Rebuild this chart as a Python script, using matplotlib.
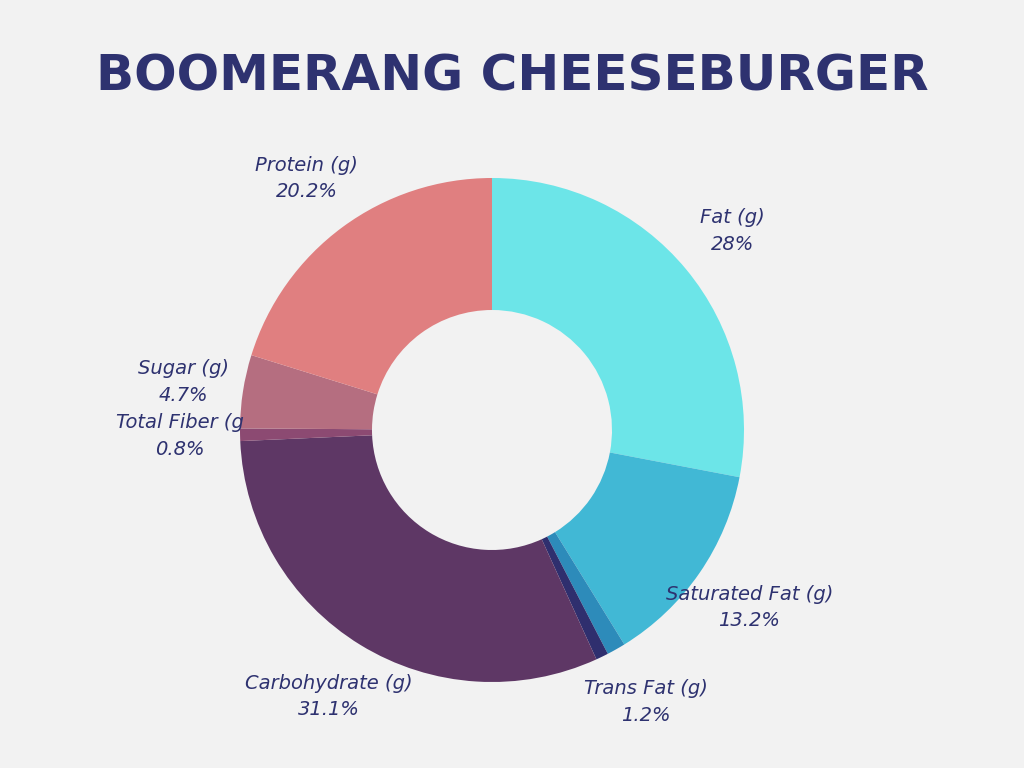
import matplotlib.pyplot as plt

labels = ['Fat (g)', 'Saturated Fat (g)', 'Trans Fat (g)', '', 'Carbohydrate (g)',
          'Total Fiber (g', 'Sugar (g)', 'Protein (g)']
values = [28, 13.2, 1.2, 0.8, 31.1, 0.8, 4.7, 20.2]
shown = ['28%', '13.2%', '1.2%', '', '31.1%', '0.8%', '4.7%', '20.2%']
colors = ['#6ce5e8', '#41b8d5', '#2d8bba', '#2f2f6e', '#5e3765',
          '#8c4a72', '#b56e80', '#e07f80']

text_col = '#2e3270'
fig = plt.figure(figsize=(10.24, 7.68), dpi=100, facecolor='#f2f2f2')
ax = fig.add_axes([0, 0, 1, 1])
ax.set_facecolor('#f2f2f2')

wedges, texts = ax.pie(values, colors=colors, startangle=90, counterclock=False,
                       center=(492, 338), radius=252, labeldistance=1.24,
                       labels=[f'{l}\n{s}' if l else '' for l, s in zip(labels, shown)],
                       wedgeprops=dict(width=132, linewidth=0),
                       textprops=dict(fontsize=14, style='italic', color=text_col,
                                      linespacing=1.5))
for t in texts:
    t.set_ha('center')
ax.set_xlim(0, 1024)
ax.set_ylim(0, 768)
ax.set_aspect('equal')
ax.axis('off')

fig.text(0.5, 0.9, 'BOOMERANG CHEESEBURGER', ha='center', va='center',
         fontsize=36, fontweight='bold', color=text_col)

fig.savefig('out.png', dpi=100, facecolor=fig.get_facecolor())
